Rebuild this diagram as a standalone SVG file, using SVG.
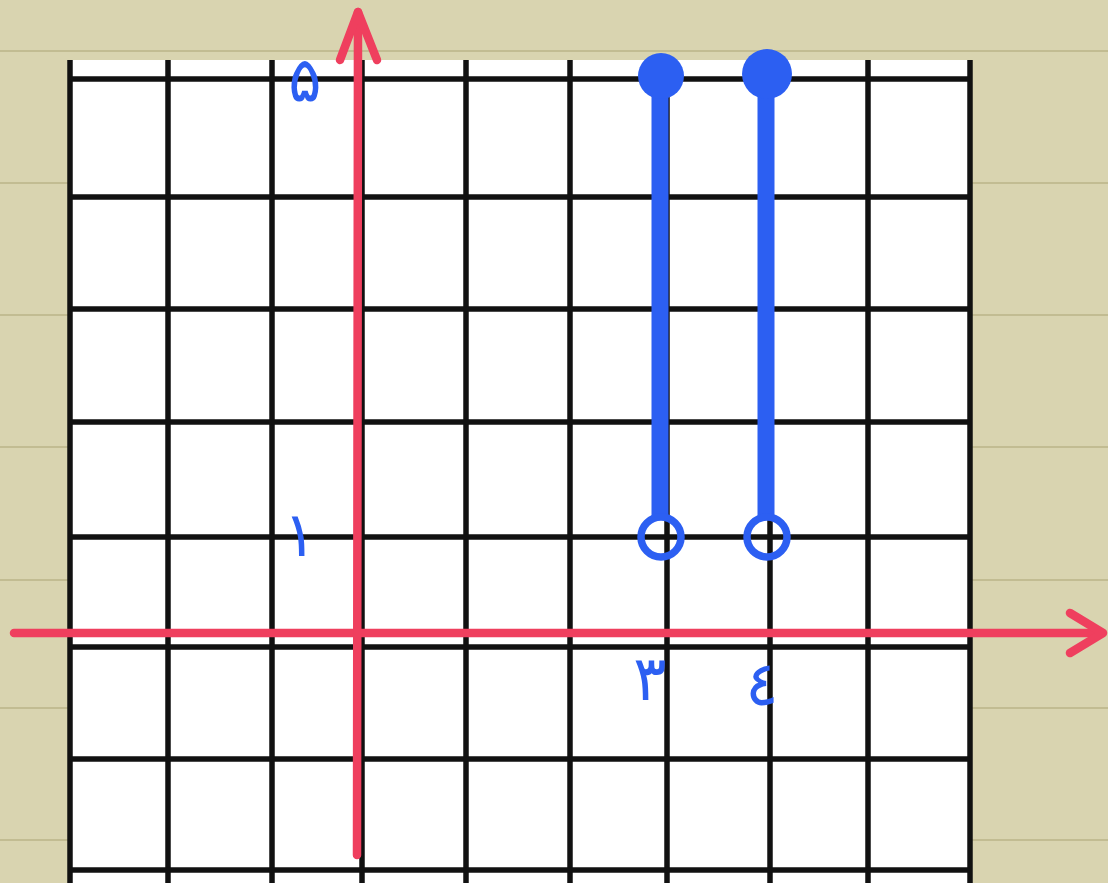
<svg xmlns="http://www.w3.org/2000/svg" width="1108" height="883" viewBox="0 0 1108 883">
<defs>
<style>
.nb{stroke:#c2bc92;stroke-width:2}
.grid line{stroke:#111;stroke-width:5.5}
.axis{stroke:#ef3f5e;stroke-width:8.5;stroke-linecap:round;stroke-linejoin:round;fill:none}
.seg{stroke:#2c5ff2;stroke-width:17;stroke-linecap:butt}
.dot{fill:#2c5ff2}
.open{fill:none;stroke:#2c5ff2;stroke-width:7.5}
.lbl{fill:#2c5ff2;font-family:"DejaVu Sans","Noto Sans",sans-serif;font-size:62px;text-anchor:middle}
</style>
</defs>
<rect width="1108" height="883" fill="#d9d4b0"/>
<g id="notebook-lines">
<line class="nb" x1="0" y1="51" x2="1108" y2="51"/>
<line class="nb" x1="0" y1="183" x2="1108" y2="183"/>
<line class="nb" x1="0" y1="315" x2="1108" y2="315"/>
<line class="nb" x1="0" y1="447" x2="1108" y2="447"/>
<line class="nb" x1="0" y1="580" x2="1108" y2="580"/>
<line class="nb" x1="0" y1="708" x2="1108" y2="708"/>
<line class="nb" x1="0" y1="840" x2="1108" y2="840"/>
</g>
<rect id="paper" x="70" y="60" width="900" height="823" fill="#ffffff"/>
<g id="grid" class="grid">
<line x1="70" y1="60" x2="70" y2="883"/>
<line x1="168" y1="60" x2="168" y2="883"/>
<line x1="272" y1="60" x2="272" y2="883"/>
<line x1="362" y1="60" x2="362" y2="883"/>
<line x1="466" y1="60" x2="466" y2="883"/>
<line x1="570" y1="60" x2="570" y2="883"/>
<line x1="667" y1="60" x2="667" y2="883"/>
<line x1="770" y1="60" x2="770" y2="883"/>
<line x1="868" y1="60" x2="868" y2="883"/>
<line x1="970" y1="60" x2="970" y2="883"/>
<line x1="70" y1="79" x2="970" y2="79"/>
<line x1="70" y1="197" x2="970" y2="197"/>
<line x1="70" y1="309" x2="970" y2="309"/>
<line x1="70" y1="422" x2="970" y2="422"/>
<line x1="70" y1="537" x2="970" y2="537"/>
<line x1="70" y1="647" x2="970" y2="647"/>
<line x1="70" y1="759" x2="970" y2="759"/>
<line x1="70" y1="870" x2="970" y2="870"/>
</g>
<g id="axes">
<line class="axis" x1="14" y1="633" x2="1102" y2="633"/>
<polyline class="axis" points="1070,613 1103,633 1070,653"/>
<line class="axis" x1="357" y1="855" x2="358" y2="12"/>
<polyline class="axis" points="340,60 358,12 377,60"/>
</g>
<g id="segment-1">
<line class="seg" x1="660" y1="80" x2="660" y2="518"/>
<circle class="dot" cx="661" cy="76" r="23"/>
<circle class="open" cx="661" cy="537" r="20"/>
</g>
<g id="segment-2">
<line class="seg" x1="766" y1="80" x2="766" y2="518"/>
<circle class="dot" cx="767" cy="74" r="25"/>
<circle class="open" cx="767" cy="537" r="20"/>
</g>
<g id="labels">
<text class="lbl" x="305" y="101">۵</text>
<text class="lbl" x="300" y="556">۱</text>
<text class="lbl" x="650" y="700">۳</text>
<text class="lbl" x="762" y="705">٤</text>
</g>
</svg>
